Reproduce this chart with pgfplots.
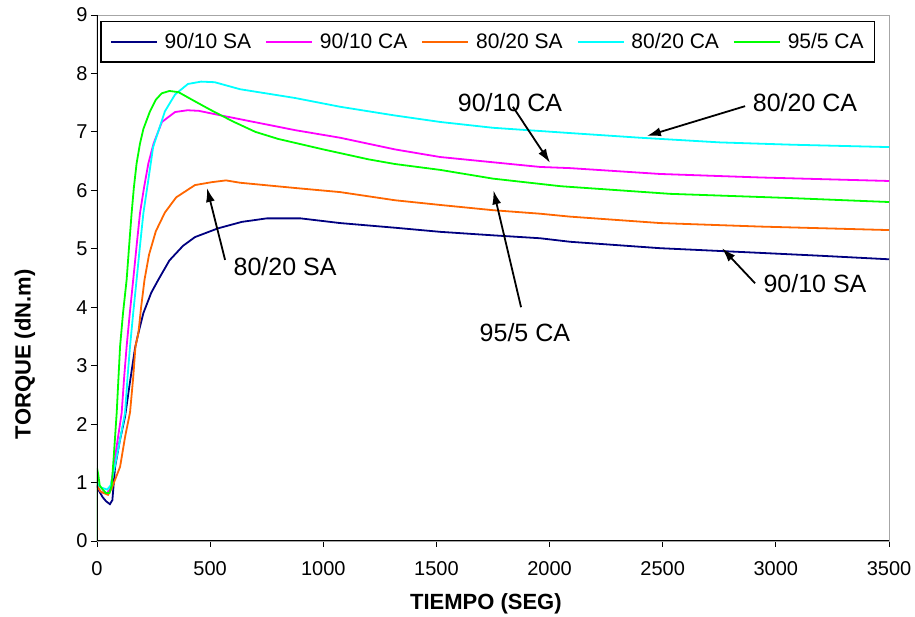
\documentclass[border=0pt]{standalone}
\usepackage{pgfplots}
\pgfplotsset{compat=1.18}
\usepackage{fontspec}
\setmainfont{Liberation Sans}
\usetikzlibrary{arrows.meta}

\definecolor{cNavy}{RGB}{0,0,128}
\definecolor{cMag}{RGB}{255,0,255}
\definecolor{cOra}{RGB}{255,102,0}
\definecolor{cCya}{RGB}{0,255,255}
\definecolor{cGre}{RGB}{0,255,0}

\begin{document}
\begin{tikzpicture}
\begin{axis}[
  name=ax,
  scale only axis, width=792pt, height=526pt,
  xmin=0, xmax=3500, ymin=0, ymax=9,
  xtick={0,500,...,3500}, ytick={0,1,...,9},
  tick pos=left, tick align=outside,
  major tick length=6pt,
  tick style={black, line width=0.9pt},
  axis line style={draw=gray!70, line width=0.9pt},
  /pgf/number format/assume math mode=true,
  /pgf/number format/1000 sep={},
  tick label style={font=\fontsize{20}{24}\selectfont},
  xticklabel style={yshift=-11pt},
  xlabel={\textbf{TIEMPO (SEG)}},
  ylabel={\textbf{TORQUE (dN.m)}},
  xlabel style={font=\fontsize{22}{26}\selectfont, at={(axis description cs:0.491,-0.119)}, anchor=center},
  ylabel style={font=\fontsize{22}{26}\selectfont, at={(axis description cs:-0.091,0.355)}, anchor=center},
  legend columns=5,
  legend image code/.code={\draw[#1] (0pt,0pt) -- (46pt,0pt);},
  legend style={font=\fontsize{21}{25}\selectfont, draw=black, line width=1.4pt,
    at={(axis description cs:0.004,0.989)}, anchor=north west,
    inner xsep=9pt, inner ysep=10pt,
    /tikz/every odd column/.append style={column sep=5pt},
    /tikz/every even column/.append style={column sep=12pt},
    nodes={inner sep=2pt}},
  every axis plot/.append style={line width=1.8pt},
]
\addplot[cNavy] coordinates {(0,0.95)(10,0.85)(25,0.75)(40,0.68)(57,0.63)(68,0.7)(80,1.27)(100,1.7)(124,2.13)(145,2.7)(168,3.3)(183,3.56)(205,3.9)(240,4.25)(271,4.47)(320,4.8)(380,5.05)(433,5.2)(535,5.35)(640,5.46)(750,5.52)(900,5.52)(1074,5.44)(1317,5.36)(1516,5.29)(1750,5.23)(1958,5.18)(2090,5.12)(2488,5.01)(2930,4.93)(3200,4.88)(3500,4.82)};
\addlegendentry{90/10 SA}
\addplot[cMag] coordinates {(0,0.95)(15,0.85)(30,0.82)(45,0.82)(60,0.9)(75,1.3)(90,1.7)(109,2.19)(120,2.8)(131,3.33)(145,3.9)(160,4.47)(175,5.05)(190,5.61)(208,6.05)(227,6.46)(250,6.8)(287,7.17)(345,7.34)(400,7.37)(450,7.36)(550,7.28)(654,7.2)(875,7.03)(1074,6.9)(1317,6.7)(1516,6.57)(1750,6.48)(1958,6.4)(2090,6.38)(2488,6.28)(2930,6.22)(3500,6.16)};
\addlegendentry{90/10 CA}
\addplot[cOra] coordinates {(0,0.95)(15,0.85)(30,0.82)(49,0.79)(65,0.9)(80,1.05)(102,1.27)(125,1.8)(146,2.2)(160,2.8)(170,3.33)(183,3.56)(195,4.0)(210,4.47)(230,4.9)(260,5.3)(300,5.62)(350,5.88)(433,6.09)(508,6.14)(570,6.17)(632,6.13)(875,6.04)(1074,5.97)(1317,5.83)(1516,5.75)(1750,5.66)(1958,5.6)(2090,5.55)(2488,5.44)(2930,5.38)(3500,5.32)};
\addlegendentry{80/20 SA}
\addplot[cCya] coordinates {(0,1.0)(15,0.92)(30,0.9)(45,0.88)(60,0.95)(80,1.3)(100,1.7)(124,2.19)(135,2.8)(146,3.33)(160,3.9)(175,4.47)(190,5.05)(205,5.61)(222,6.05)(248,6.74)(300,7.35)(345,7.64)(402,7.82)(460,7.86)(520,7.85)(632,7.73)(875,7.58)(1074,7.43)(1317,7.28)(1516,7.17)(1750,7.07)(2090,6.98)(2400,6.9)(2753,6.82)(3076,6.78)(3500,6.74)};
\addlegendentry{80/20 CA}
\addplot[cGre] coordinates {(0,0)(0,1.25)(5,1.15)(12,0.95)(25,0.88)(40,0.82)(55,0.82)(65,0.95)(75,1.5)(87,2.19)(95,2.8)(102,3.33)(115,3.9)(131,4.47)(142,5.05)(153,5.61)(163,6.05)(175,6.46)(190,6.8)(205,7.05)(234,7.35)(260,7.55)(286,7.66)(320,7.7)(360,7.68)(420,7.55)(500,7.38)(600,7.18)(700,7.0)(800,6.88)(1000,6.7)(1200,6.53)(1317,6.45)(1516,6.35)(1750,6.2)(2050,6.07)(2532,5.94)(3049,5.87)(3500,5.8)};
\addlegendentry{95/5 CA}

% left and bottom axis lines in black
\draw[black, line width=1.1pt] (rel axis cs:0,1) -- (rel axis cs:0,0) -- (rel axis cs:1,0);

% annotations
\begin{scope}[every node/.style={font=\fontsize{25}{30}\selectfont}]
\node at (axis cs:831,4.69) {80/20 SA};
\node at (axis cs:1825,7.51) {90/10 CA};
\node at (axis cs:1891,3.56) {95/5 CA};
\node at (axis cs:3129,7.51) {80/20 CA};
\node at (axis cs:3173,4.41) {90/10 SA};
\end{scope}
\begin{scope}[line width=1.8pt, -{Latex[length=14pt,width=9pt]}]
\draw (axis cs:566,4.81) -- (axis cs:486,6.04);
\draw (axis cs:1838,7.43) -- (axis cs:2002,6.47);
\draw (axis cs:1874,4.0) -- (axis cs:1752,6.0);
\draw (axis cs:2864,7.44) -- (axis cs:2430,6.93);
\draw (axis cs:2908,4.41) -- (axis cs:2762,5.01);
\end{scope}
\end{axis}
\pgfresetboundingbox
\path ([shift={(-97pt,-76pt)}]ax.south west) rectangle ([shift={(26pt,15pt)}]ax.north east);
\end{tikzpicture}
\end{document}
